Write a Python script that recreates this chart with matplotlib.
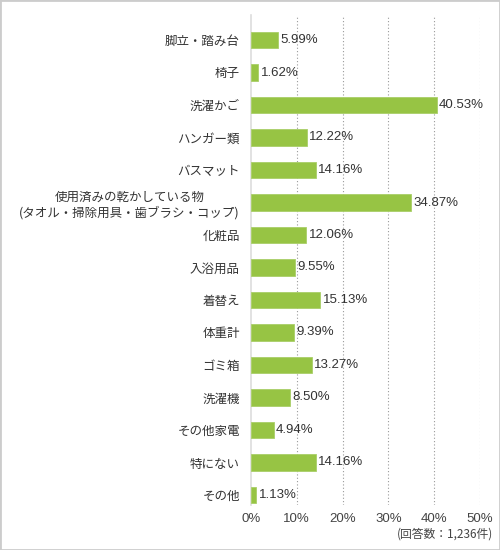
import matplotlib
matplotlib.use("Agg")
import matplotlib.pyplot as plt
from matplotlib.patches import Rectangle

plt.rcParams['font.family'] = ['Noto Sans CJK JP', 'DejaVu Sans']

categories = ["脚立・踏み台", "椅子", "洗濯かご", "ハンガー類", "バスマット",
              "使用済みの乾かしている物\n(タオル・掃除用具・歯ブラシ・コップ)",
              "化粧品", "入浴用品", "着替え", "体重計", "ゴミ箱", "洗濯機",
              "その他家電", "特にない", "その他"]
values = [5.99, 1.62, 40.53, 12.22, 14.16, 34.87, 12.06, 9.55, 15.13, 9.39,
          13.27, 8.50, 4.94, 14.16, 1.13]
xticks = [0, 10, 20, 30, 40, 50]
note = "(回答数：1,236件)"

W, H = 500, 550
fig = plt.figure(figsize=(W/100, H/100), dpi=100)
fig.patches.append(Rectangle((0, 0), 1, 1, transform=fig.transFigure,
                             fill=False, edgecolor='#cccccc', linewidth=2))

left, right, top, bottom = 251, 480, 15, 505
ax = fig.add_axes([left/W, 1-bottom/H, (right-left)/W, (bottom-top)/H])

pos = list(range(len(categories)))
ax.barh(pos, values, height=0.52, color='#97c444', edgecolor='#a9cf68', linewidth=0.6, zorder=3)
ax.set_ylim(14 + (bottom-495)/32.5, -(40-top)/32.5)
ax.set_xlim(0, 50)

for p, v in zip(pos, values):
    ax.text(v + 0.5, p, f"{v:.2f}%", va='center', ha='left', fontsize=9.5,
            color='#333333', family=['Liberation Sans', 'DejaVu Sans'], zorder=4)

ax.set_yticks(pos)
ax.set_yticklabels(categories, fontsize=9, color='#333333', linespacing=1.25)
ax.set_xticks(xticks)
ax.set_xticklabels([f"{t}%" for t in xticks], fontsize=9.5, color='#444444',
                   family=['Liberation Sans', 'DejaVu Sans'])
ax.tick_params(axis='y', length=0, pad=8)
ax.tick_params(axis='x', length=0, pad=6)
for lbl in ax.get_yticklabels():
    lbl.set_multialignment('center')

for t in xticks[1:]:
    ax.axvline(t, color='#999999', linestyle=(0, (1, 2)), linewidth=0.8, zorder=1)

for s in ['top', 'right', 'bottom']:
    ax.spines[s].set_visible(False)
ax.spines['left'].set_color('#dddddd')
ax.spines['left'].set_linewidth(1.2)

fig.text(493/W, 1-534/H, note, ha='right', va='center', fontsize=8.5, color='#444444')

fig.savefig("out.png", dpi=100)
